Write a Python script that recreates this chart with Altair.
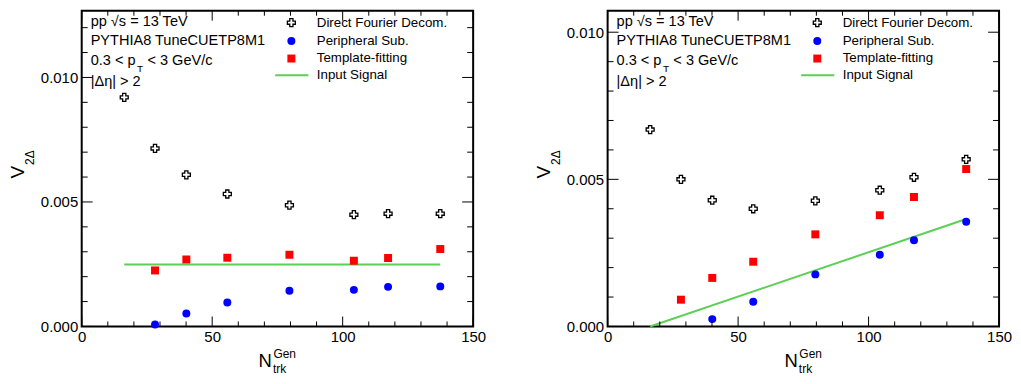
import altair as alt
import pandas as pd

# ---------------- data ----------------
NTRK = [16.3, 28.1, 40.1, 55.8, 79.6, 104.3, 117.4, 137.4]

# left panel (constant input v2)
L_DF = [0.0092, 0.00715, 0.00609, 0.00532, 0.00487, 0.00449, 0.00453, 0.00453]
L_PS_X = [28.1, 40.1, 55.8, 79.6, 104.3, 117.4, 137.4]
L_PS = [0.00008, 0.00052, 0.00096, 0.00143, 0.00147, 0.00159, 0.00161]
L_TF_X = [28.1, 40.1, 55.8, 79.6, 104.3, 117.4, 137.4]
L_TF = [0.00225, 0.00269, 0.00276, 0.00288, 0.00264, 0.00275, 0.00311]
L_TF_ERR = [0.00003, 0.00003, 0.00003, 0.00003, 0.00003, 0.00003, 0.00012]
L_SIG_X = [16.3, 137.4]
L_SIG_Y = [0.00249, 0.00249]

# right panel (linearly rising input v2)
R_DF = [0.00669, 0.00500, 0.00429, 0.00400, 0.00427, 0.00463, 0.00507, 0.00568]
R_PS_X = [40.1, 55.8, 79.6, 104.3, 117.4, 137.4]
R_PS = [0.00025, 0.00084, 0.00177, 0.00244, 0.00293, 0.00356]
R_TF_X = [28.1, 40.1, 55.8, 79.6, 104.3, 117.4, 137.4]
R_TF = [0.00091, 0.00165, 0.00220, 0.00313, 0.00378, 0.00440, 0.00535]
R_TF_ERR = [0.00003, 0.00003, 0.00003, 0.00003, 0.00003, 0.00003, 0.00011]
R_SIG_X = [16.3, 137.4]
R_SIG_Y = [0.0, 0.00365]

X_MAJOR = [0, 50, 100, 150]
X_MINOR = [10, 20, 30, 40, 60, 70, 80, 90, 110, 120, 130, 140]
Y_MAJOR = [0.0, 0.005, 0.010]
L_Y_MINOR = [0.001, 0.002, 0.003, 0.004, 0.006, 0.007, 0.008, 0.009, 0.011, 0.012]
R_Y_MINOR = [0.001, 0.002, 0.003, 0.004, 0.006, 0.007, 0.008, 0.009]

LEGEND = ["Direct Fourier Decom.", "Peripheral Sub.", "Template-fitting", "Input Signal"]

FONT = "Liberation Sans"
GREEN = "#5ccf55"
W = 393
H = 317


def panel(df_vals, ps_x, ps_vals, tf_x, tf_vals, tf_err, sig_x, sig_y, ymax, y_minor):
    xs = alt.Scale(domain=[0, 150], nice=False, zero=False)
    ys = alt.Scale(domain=[0, ymax], nice=False, zero=False)

    d_df = pd.DataFrame({"x": NTRK, "y": df_vals})
    d_ps = pd.DataFrame({"x": ps_x, "y": ps_vals})
    d_tf = pd.DataFrame({"x": tf_x, "y": tf_vals,
                         "lo": [v - e for v, e in zip(tf_vals, tf_err)],
                         "hi": [v + e for v, e in zip(tf_vals, tf_err)]})
    d_sig = pd.DataFrame({"x": sig_x, "y": sig_y})

    xaxis = alt.Axis(values=X_MAJOR, format="d", ticks=False, domain=False, grid=False,
                     labelFont=FONT, labelFontSize=15, labelPadding=3, labelColor="black",
                     labelFlush=False, labelOverlap=False, title=None)
    yaxis = alt.Axis(values=Y_MAJOR, format=".3f", ticks=False, domain=False, grid=False,
                     labelFont=FONT, labelFontSize=15, labelPadding=4, labelColor="black",
                     labelFlush=False, labelOverlap=False, title=None)

    def X(f):
        return alt.X(f, scale=xs, axis=xaxis)

    def Y(f):
        return alt.Y(f, scale=ys, axis=yaxis)

    layers = []
    # signal line
    layers.append(alt.Chart(d_sig).mark_line(color=GREEN, strokeWidth=2).encode(
        x=X("x:Q"), y=Y("y:Q")))
    # error bars
    layers.append(alt.Chart(d_tf).mark_rule(color="red", strokeWidth=1.5).encode(
        x=X("x:Q"), y=Y("lo:Q"), y2="hi:Q"))
    layers.append(alt.Chart(d_tf).mark_square(color="red", size=64, opacity=1).encode(
        x=X("x:Q"), y=Y("y:Q")))
    layers.append(alt.Chart(d_ps).mark_circle(color="blue", size=64, opacity=1).encode(
        x=X("x:Q"), y=Y("y:Q")))
    layers.append(alt.Chart(d_df).mark_point(shape="cross", filled=True, fill="white",
                                             stroke="black", strokeWidth=1.3, size=64,
                                             opacity=1).encode(
        x=X("x:Q"), y=Y("y:Q")))

    # inward ticks on all four sides
    def xticks(vals, length):
        d = pd.DataFrame({"v": vals})
        bot = alt.Chart(d).mark_rule(color="black", strokeWidth=1).encode(
            x=X("v:Q"), y=alt.value(H), y2=alt.value(H - length))
        top = alt.Chart(d).mark_rule(color="black", strokeWidth=1).encode(
            x=X("v:Q"), y=alt.value(0), y2=alt.value(length))
        return [bot, top]

    def yticks(vals, length):
        d = pd.DataFrame({"v": vals})
        lft = alt.Chart(d).mark_rule(color="black", strokeWidth=1).encode(
            y=Y("v:Q"), x=alt.value(0), x2=alt.value(length))
        rgt = alt.Chart(d).mark_rule(color="black", strokeWidth=1).encode(
            y=Y("v:Q"), x=alt.value(W), x2=alt.value(W - length))
        return [lft, rgt]

    layers += xticks(X_MAJOR, 10) + xticks(X_MINOR, 5)
    layers += yticks(Y_MAJOR, 11) + yticks(y_minor, 6)

    def txt(s, x, y, size=14.6, **kw):
        return alt.Chart().mark_text(text=s, font=FONT, fontSize=size, color="black",
                                     align=kw.pop("align", "left"),
                                     baseline=kw.pop("baseline", "alphabetic"), **kw).encode(
            x=alt.value(x), y=alt.value(y))

    # annotation block
    layers.append(txt("pp  \u221as = 13 TeV", 9, 15.7))
    layers.append(txt("PYTHIA8 TuneCUETP8M1", 9, 34.5))
    layers.append(txt("0.3 < p", 9, 54.3))
    layers.append(txt("T", 55.5, 62, size=10))
    layers.append(txt("< 3 GeV/c", 66, 54.3))
    layers.append(txt("|\u0394\u03b7| > 2", 9, 75.7))

    # legend
    layers.append(alt.Chart().mark_point(shape="cross", filled=True, fill="white", stroke="black",
                                         strokeWidth=1.3, size=64, opacity=1).encode(
        x=alt.value(210.5), y=alt.value(12)))
    layers.append(alt.Chart().mark_circle(color="blue", size=64, opacity=1).encode(
        x=alt.value(210.5), y=alt.value(30.3)))
    layers.append(alt.Chart().mark_square(color="red", size=64, opacity=1).encode(
        x=alt.value(210.5), y=alt.value(48)))
    layers.append(alt.Chart().mark_rule(color=GREEN, strokeWidth=2).encode(
        x=alt.value(194.3), x2=alt.value(227.6), y=alt.value(64.7)))
    for lab, yb in zip(LEGEND, [16.3, 34, 51.3, 69]):
        layers.append(txt(lab, 236, yb, size=13.4))

    # axis titles drawn as text (sub/superscripts)
    layers.append(txt("V", -63.7, 162, size=19, angle=270, align="center", baseline="middle"))
    layers.append(txt("2\u0394", -52.2, 147.5, size=12, angle=270, align="center", baseline="middle"))
    layers.append(txt("N", 177.5, H + 41, size=18.5))
    layers.append(txt("Gen", 192.5, H + 31.5, size=12))
    layers.append(txt("trk", 192, H + 47, size=12))

    return alt.layer(*layers).properties(width=W, height=H)


left = panel(L_DF, L_PS_X, L_PS, L_TF_X, L_TF, L_TF_ERR, L_SIG_X, L_SIG_Y, 0.01268, L_Y_MINOR)
right = panel(R_DF, R_PS_X, R_PS, R_TF_X, R_TF, R_TF_ERR, R_SIG_X, R_SIG_Y, 0.01073, R_Y_MINOR)

chart = alt.HConcatChart(hconcat=[left, right], spacing=135, bounds="flush").properties(
    padding={"left": 0, "top": 0, "right": 0, "bottom": 0},
    background="white",
).configure_view(stroke="black", strokeWidth=2)

chart.save("out.html", embed_options={"renderer": "svg", "actions": False})
